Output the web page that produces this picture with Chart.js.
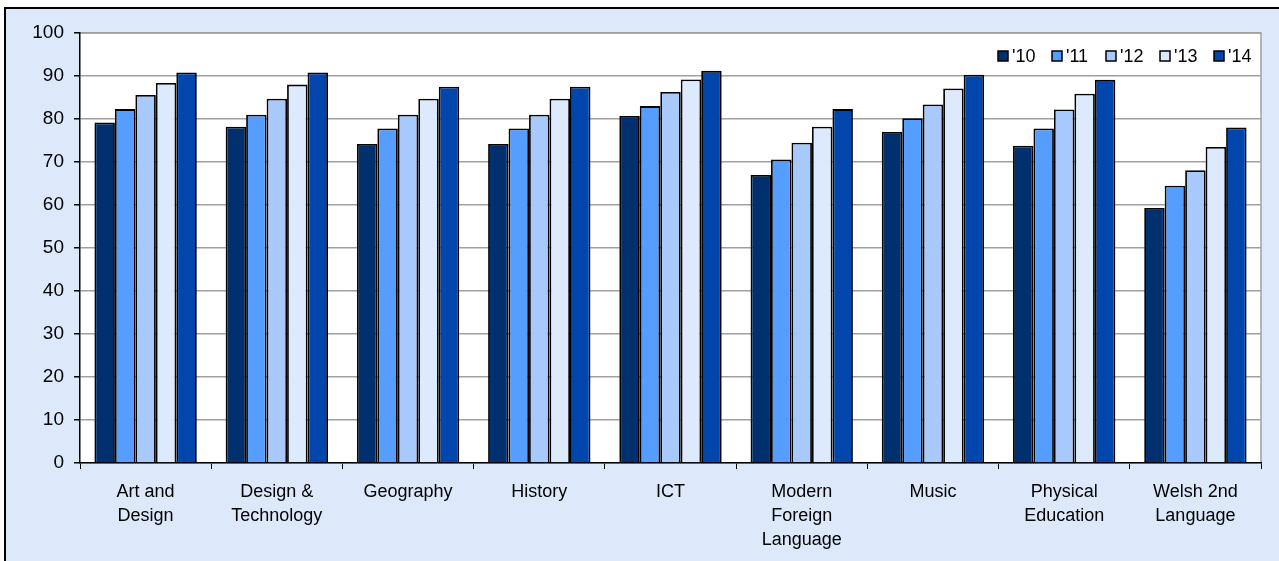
<!DOCTYPE html>
<html><head><meta charset="utf-8">
<script src="https://cdn.jsdelivr.net/npm/chart.js@4/dist/chart.umd.min.js"></script>
<style>html,body{margin:0;padding:0;background:#fff}#wrap{width:1279px;height:561px}</style>
</head><body><div id="wrap"><canvas id="c" width="1279" height="561"></canvas></div>
<script>
const categories = [['Art and','Design'], ['Design &','Technology'], 'Geography', 'History', 'ICT', ['Modern','Foreign','Language'], 'Music', ['Physical','Education'], ['Welsh 2nd','Language']];
const seriesNames = ["'10", "'11", "'12", "'13", "'14"];
const y2010 = [79.2, 78.2, 74.2, 74.2, 80.7, 67.0, 77.0, 73.8, 59.3];
const y2011 = [82.3, 81.0, 77.8, 77.8, 83.0, 70.6, 80.2, 77.8, 64.5];
const y2012 = [85.6, 84.7, 81.0, 81.0, 86.3, 74.5, 83.4, 82.2, 68.1];
const y2013 = [88.4, 88.0, 84.7, 84.7, 89.2, 78.2, 87.1, 85.9, 73.5];
const y2014 = [90.8, 90.8, 87.5, 87.5, 91.2, 82.3, 90.3, 89.1, 78.0];
const yTicks = [0,10,20,30,40,50,60,70,80,90,100];
const colors = ['#00306e', '#559dff', '#a7c9fc', '#dde9fd', '#0046ad'];
const seriesValues = [y2010, y2011, y2012, y2013, y2014];

const FONT = "'Liberation Sans', Arial, sans-serif";

const bgPlugin = {
  id: 'bg',
  beforeDraw(chart) {
    const ctx = chart.ctx, a = chart.chartArea;
    ctx.save();
    ctx.fillStyle = '#ffffff';
    ctx.fillRect(0, 0, chart.width, chart.height);
    ctx.fillStyle = '#dde9fb';
    ctx.fillRect(5, 8, chart.width - 5, chart.height - 8);
    ctx.strokeStyle = '#000';
    ctx.lineWidth = 2;
    ctx.beginPath();
    ctx.moveTo(5, chart.height);
    ctx.lineTo(5, 8);
    ctx.lineTo(chart.width, 8);
    ctx.stroke();
    ctx.fillStyle = '#ffffff';
    ctx.fillRect(a.left, a.top, a.right - a.left, a.bottom - a.top);
    ctx.strokeStyle = '#a0a0a0';
    ctx.lineWidth = 1.5;
    ctx.beginPath();
    ctx.moveTo(a.left, a.top);
    ctx.lineTo(a.right, a.top);
    ctx.lineTo(a.right, a.bottom);
    ctx.stroke();
    ctx.restore();
  }
};

// legend drawn inside the plot area, top-right, from the chart's datasets
const legendPlugin = {
  id: 'innerLegend',
  afterDatasetsDraw(chart) {
    const ctx = chart.ctx, a = chart.chartArea;
    const ds = chart.data.datasets;
    const step = 54, box = 10, yc = a.top + 23;
    let x = a.right - 47 - step * (ds.length - 1);
    ctx.save();
    ctx.font = "18px " + FONT;
    ctx.textBaseline = 'middle';
    ctx.textAlign = 'left';
    ds.forEach((d) => {
      ctx.fillStyle = d.backgroundColor;
      ctx.fillRect(x, yc - box / 2, box, box);
      ctx.strokeStyle = '#000';
      ctx.lineWidth = 1.5;
      ctx.strokeRect(x, yc - box / 2, box, box);
      ctx.fillStyle = '#000';
      ctx.fillText(d.label, x + box + 4, yc + 1);
      x += step;
    });
    ctx.restore();
  }
};

new Chart(document.getElementById('c'), {
  type: 'bar',
  data: {
    labels: categories,
    datasets: seriesNames.map((n, i) => ({
      label: n,
      data: seriesValues[i],
      backgroundColor: colors[i],
      borderColor: '#000',
      borderWidth: 1.8,
      barPercentage: 1.0,
      categoryPercentage: 0.78
    }))
  },
  options: {
    responsive: false,
    animation: false,
    layout: { padding: { left: 0, right: 18, top: 33, bottom: 0 } },
    plugins: {
      tooltip: { enabled: false },
      legend: { display: false }
    },
    scales: {
      x: {
        grid: { drawOnChartArea: false, offset: true, tickColor: '#000', tickLength: 6, color: '#000' },
        border: { color: '#000', width: 1.5 },
        ticks: { color: '#000', font: { family: FONT, size: 18, lineHeight: 1.33 }, padding: 11, maxRotation: 0, autoSkip: false },
        afterFit(s) { s.height = 98; }
      },
      y: {
        min: 0, max: 100,
        afterBuildTicks(s) { s.ticks = yTicks.map(v => ({ value: v })); },
        grid: { color: '#a0a0a0', lineWidth: 1.5, tickColor: '#000', tickLength: 6 },
        border: { color: '#000', width: 1.5 },
        ticks: { color: '#000', font: { family: FONT, size: 19 }, padding: 10 },
        afterFit(s) { s.width = 80; }
      }
    }
  },
  plugins: [bgPlugin, legendPlugin]
});
</script></body></html>
